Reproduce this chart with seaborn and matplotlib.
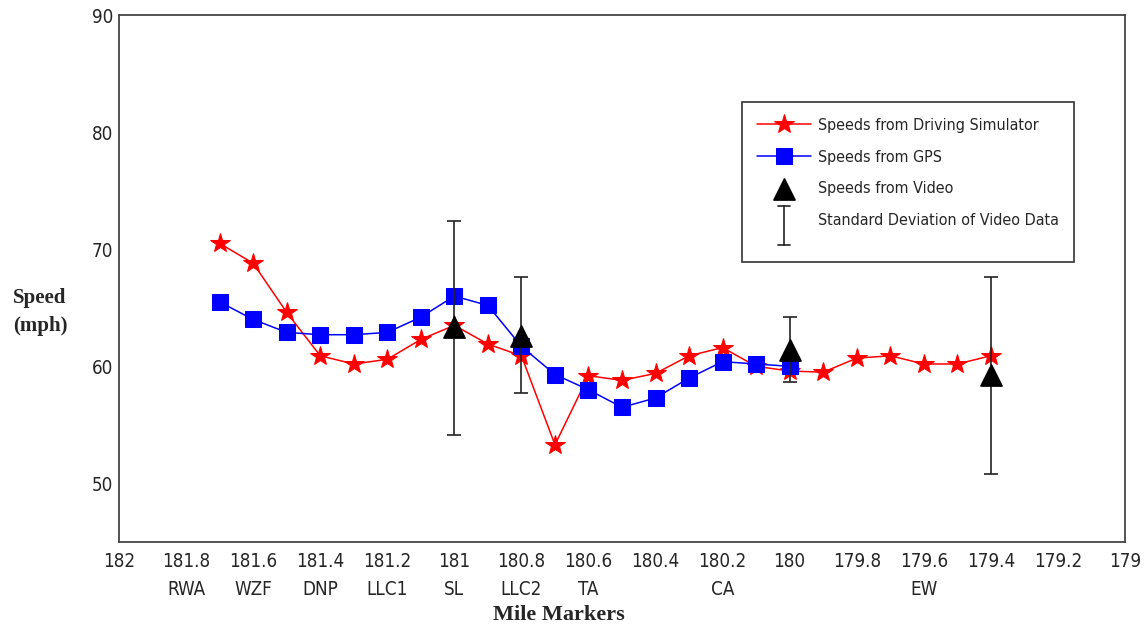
import numpy as np
import pandas as pd
import matplotlib
matplotlib.use("Agg")
import matplotlib.pyplot as plt
import seaborn as sns
from matplotlib.lines import Line2D
from matplotlib.patches import Rectangle
from matplotlib.legend_handler import HandlerBase

# mile markers and speeds
sim_miles = [181.7, 181.6, 181.5, 181.4, 181.3, 181.2, 181.1, 181.0, 180.9, 180.8, 180.7, 180.6,
             180.5, 180.4, 180.3, 180.2, 180.1, 180.0, 179.9, 179.8, 179.7, 179.6, 179.5, 179.4]
sim_speed = [70.5, 68.8, 64.6, 60.9, 60.2, 60.6, 62.3, 63.5, 61.9, 60.9, 53.3, 59.2,
             58.8, 59.4, 60.9, 61.6, 60.0, 59.6, 59.5, 60.7, 60.9, 60.2, 60.2, 60.9]

gps_miles = [181.7, 181.6, 181.5, 181.4, 181.3, 181.2, 181.1, 181.0, 180.9, 180.8, 180.7, 180.6,
             180.5, 180.4, 180.3, 180.2, 180.1, 180.0]
gps_speed = [65.5, 64.0, 62.9, 62.7, 62.7, 62.9, 64.2, 66.0, 65.2, 61.7, 59.3, 58.0,
             56.5, 57.3, 59.0, 60.4, 60.2, 60.0]

video_miles = [181.0, 180.8, 180.0, 179.4]
video_speed = [63.4, 62.6, 61.4, 59.3]
video_low = [54.1, 57.7, 58.7, 50.8]
video_high = [72.4, 67.6, 64.2, 67.6]

site_miles = [181.8, 181.6, 181.4, 181.2, 181.0, 180.8, 180.6, 180.2, 179.6]
site_names = ["RWA", "WZF", "DNP", "LLC1", "SL", "LLC2", "TA", "CA", "EW"]

x_ticks = [182, 181.8, 181.6, 181.4, 181.2, 181, 180.8, 180.6, 180.4, 180.2,
           180, 179.8, 179.6, 179.4, 179.2, 179]
x_tick_labels = ["182", "181.8", "181.6", "181.4", "181.2", "181", "180.8", "180.6", "180.4",
                 "180.2", "180", "179.8", "179.6", "179.4", "179.2", "179"]

sim = pd.DataFrame({"mile": sim_miles, "speed": sim_speed})
gps = pd.DataFrame({"mile": gps_miles, "speed": gps_speed})
video = pd.DataFrame({"mile": video_miles, "speed": video_speed,
                      "low": video_low, "high": video_high})


class TallErrorbarHandler(HandlerBase):
    # legend key: a tall capped bar like the original figure
    def create_artists(self, legend, orig_handle, xdescent, ydescent, width, height,
                       fontsize, trans):
        xc = width / 2 - xdescent
        yc = height / 2 - ydescent
        lo, hi, cap = yc - 18, yc + 10, 4
        kw = dict(color="#222222", lw=1.2, transform=trans)
        return [Line2D([xc, xc], [lo, hi], **kw),
                Line2D([xc - cap, xc + cap], [lo, lo], **kw),
                Line2D([xc - cap, xc + cap], [hi, hi], **kw)]


sns.set_style("white")
plt.rcParams["font.family"] = ["Liberation Sans Narrow", "DejaVu Sans"]
plt.rcParams["font.stretch"] = "condensed"
plt.rcParams["xtick.direction"] = "in"
plt.rcParams["ytick.direction"] = "in"
serif = ["Liberation Serif", "DejaVu Serif"]

fig = plt.figure(figsize=(11.45, 6.27), dpi=100)
ax = fig.add_axes([0.104, 0.1356, 0.8785, 0.8404])

sns.lineplot(data=sim, x="mile", y="speed", ax=ax, color="red", lw=1.1,
             marker="*", markersize=15, markeredgecolor="red", label="Speeds from Driving Simulator")
sns.lineplot(data=gps, x="mile", y="speed", ax=ax, color="blue", lw=1.1,
             marker="s", markersize=11, markeredgecolor="blue", label="Speeds from GPS")

err = [video["speed"] - video["low"], video["high"] - video["speed"]]
eb = ax.errorbar(video["mile"], video["speed"], yerr=err, fmt="none", ecolor="#222222",
                 elinewidth=1.2, capsize=5, capthick=1.2, label="Standard Deviation of Video Data")
sns.scatterplot(data=video, x="mile", y="speed", ax=ax, color="black", marker="^", s=230,
                edgecolor="black", zorder=5, label="Speeds from Video")

ax.set_xlim(182, 179)
ax.set_ylim(45, 90)
ax.set_xticks(x_ticks)
ax.set_xticklabels(x_tick_labels, fontsize=13.5)
ax.set_yticks([50, 60, 70, 80, 90])
ax.set_yticklabels(["50", "60", "70", "80", "90"], fontsize=13.5)
ax.tick_params(axis="x", length=8, width=1, pad=7, color="#333333")
ax.tick_params(axis="y", length=8, width=1, pad=4, color="#333333")
for s in ax.spines.values():
    s.set_color("#444444")
    s.set_linewidth(1.3)
ax.set_xlabel("")
ax.set_ylabel("")

# site names under the mile ticks
for m, name in zip(site_miles, site_names):
    ax.text(m, -0.072, name, transform=ax.get_xaxis_transform(), ha="center", va="top",
            fontsize=13.5)

fig.text(0.488, 0.019, "Mile Markers", ha="center", va="center", fontsize=16,
         fontweight="bold", family=serif)
fig.text(0.035, 0.502, "Speed\n(mph)", ha="center", va="center", fontsize=15, linespacing=1.55,
         fontweight="bold", family=serif)

handles, labels = ax.get_legend_handles_labels()
order = ["Speeds from Driving Simulator", "Speeds from GPS", "Speeds from Video",
         "Standard Deviation of Video Data"]
hmap = dict(zip(labels, handles))
leg = ax.legend([hmap[k] for k in order], order, loc="upper left", bbox_to_anchor=(0.634, 0.805),
                fontsize=11.5, frameon=False, borderpad=0, borderaxespad=0,
                handlelength=3.4, handletextpad=0.45, labelspacing=1.05,
                handler_map={type(eb): TallErrorbarHandler()})
# legend box drawn separately so it can keep the extra room under the last key
ax.add_patch(Rectangle((0.6193, 0.5313), 0.33, 0.3036, transform=ax.transAxes, fill=False,
                       edgecolor="#333333", lw=1.2, zorder=6))

fig.savefig("out.png", dpi=100)
